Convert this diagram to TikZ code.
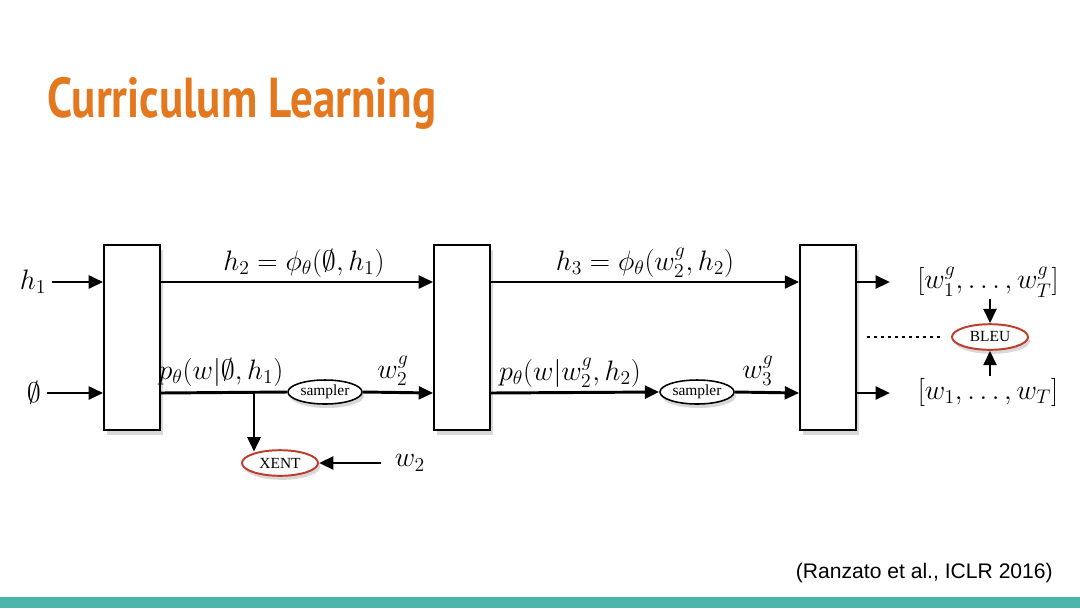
\documentclass[tikz,border=0pt]{standalone}
\usepackage{fix-cm}
\usepackage{amsmath}
\usepackage{fontspec}
\newfontfamily\titlefont{PT Sans}
\newfontfamily\citefont{Liberation Sans}
\newfontfamily\ovalfont{Liberation Serif}
\usepackage{tikz}
\usetikzlibrary{arrows.meta,positioning,shapes.geometric,shadows}

\definecolor{titleorange}{RGB}{228,120,30}
\definecolor{lossred}{RGB}{190,62,45}
\definecolor{barteal}{RGB}{77,182,172}

\begin{document}
\begin{tikzpicture}[
    x=0.025cm, y=-0.025cm,
    cell/.style={rectangle, draw, line width=1.2pt, fill=white, minimum width=1.4cm, minimum height=4.62cm,
      drop shadow={opacity=0.3, shadow xshift=0.07cm, shadow yshift=-0.12cm}},
    oval/.style={ellipse, draw, line width=1.1pt, fill=white, minimum width=1.85cm, minimum height=0.6cm, inner sep=0pt,
      font=\ovalfont\fontsize{11}{13}\selectfont, drop shadow={opacity=0.3, shadow xshift=0.05cm, shadow yshift=-0.1cm}},
    loss/.style={oval, draw=lossred, line width=1.4pt, minimum width=1.9cm, minimum height=0.64cm},
    lbl/.style={font=\fontsize{20}{24}\selectfont, inner sep=1pt},
    arrow/.style={-{Triangle[length=0.36cm,width=0.32cm]}, line width=2.1pt},
    link/.style={line width=2.1pt}
]
\useasboundingbox (0,0) rectangle (1080,608);
\fill[white] (0,0) rectangle (1080,608);
\fill[barteal] (0,597) rectangle (1080,608);

% title and reference
\node[anchor=base west, inner sep=0pt, text=titleorange, font=\titlefont\bfseries\fontsize{40}{44}\selectfont]
  (title) at (47,117) {\scalebox{0.8}[1]{Curriculum Learning}};
\node[anchor=base east, inner sep=0pt, font=\citefont\fontsize{15}{18}\selectfont]
  (cite) at (1053,578) {(Ranzato et al., ICLR 2016)};

% rows
\coordinate (top) at (0,282);
\coordinate (bot) at (0,393);

% recurrent cells
\node[cell] (box1) at (132,337.5) {};
\node[cell] (box2) at (462,337.5) {};
\node[cell] (box3) at (828,337.5) {};

% inputs
\node[lbl] (hin) at (33,282) {$h_1$};
\node[lbl] (ein) at (34,393) {$\emptyset$};
\draw[arrow] ([xshift=0.1cm]hin.east) -- (box1.west |- top);
\draw[arrow] ([xshift=0.1cm]ein.east) -- (box1.west |- bot);

% first step
\draw[arrow] (box1.east |- top) -- (box2.west |- top);
\node[lbl] (h2) at (304,263) {$h_2 = \phi_\theta(\emptyset, h_1)$};
\node[oval] (samp1) at (325,392) {sampler};
\draw[link] (box1.east |- bot) -- (samp1.west);
\draw[arrow] (samp1.east) -- (box2.west |- bot);
\node[lbl] (p1) at (221,372) {$p_\theta(w|\emptyset, h_1)$};
\node[lbl] (w2g) at (393,371) {$w_2^g$};
\coordinate (split) at (254,393);
\node[loss] (xent) at (280,463) {XENT};
\draw[arrow] (split) -- ([yshift=-0.06cm]split |- xent.north);
\node[lbl, inner sep=4pt] (w2) at (410,463) {$w_2$};
\draw[arrow] ([xshift=-0.2cm]w2.west) -- (xent.east);

% second step
\draw[arrow] (box2.east |- top) -- (box3.west |- top);
\node[lbl] (h3) at (645,263) {$h_3 = \phi_\theta(w_2^g, h_2)$};
\node[oval] (samp2) at (697,392) {sampler};
\draw[arrow] (box2.east |- bot) -- (samp2.west);
\draw[arrow] (samp2.east) -- (box3.west |- bot);
\node[lbl] (p2) at (570,373) {$p_\theta(w|w_2^g, h_2)$};
\node[lbl] (w3g) at (758,371) {$w_3^g$};

% outputs and reward
\coordinate (outtop) at (890,282);
\coordinate (outbot) at (890,393);
\draw[arrow] (box3.east |- top) -- (outtop);
\draw[arrow] (box3.east |- bot) -- (outbot);
\node[lbl] (gen) at (988,282) {$[w_1^g, \ldots, w_T^g]$};
\node[lbl] (ref) at (988,392) {$[w_1, \ldots, w_T]$};
\node[loss] (bleu) at (990,337) {BLEU};
\draw[arrow] (gen.south -| bleu) -- (bleu.north);
\draw[arrow] (ref.north -| bleu) -- (bleu.south);
\coordinate (dots) at (867,337);
\draw[line width=1pt, dash pattern=on 2.2pt off 2.8pt] (dots) -- ([xshift=-0.22cm]bleu.west);
\end{tikzpicture}
\end{document}
